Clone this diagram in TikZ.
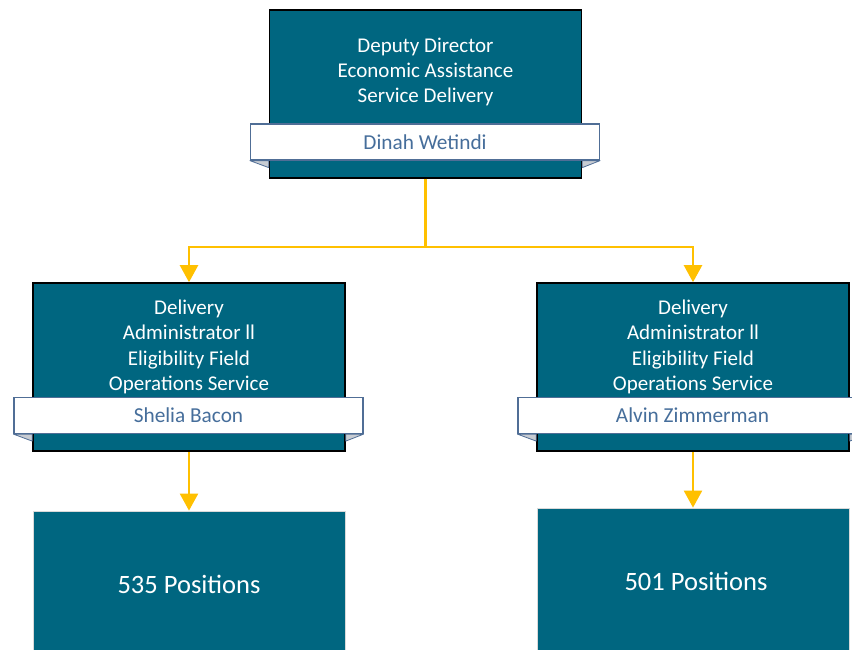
\documentclass[tikz,border=0pt]{standalone}
\usepackage{fontspec}
\setmainfont{Carlito}
\usetikzlibrary{arrows.meta}
\definecolor{boxteal}{RGB}{0,102,128}
\definecolor{barline}{RGB}{80,110,150}
\definecolor{nametext}{RGB}{70,110,155}
\definecolor{gold}{RGB}{255,192,0}
\definecolor{foldgrey}{RGB}{200,204,210}
\tikzset{
  rolebox/.style={rectangle, fill=boxteal, draw=black, line width=1.6pt, minimum width=312pt, minimum height=168pt, inner sep=0pt},
  posbox/.style={rectangle, fill=boxteal, draw=black!15, line width=0.8pt, minimum width=312pt, minimum height=168pt, inner sep=0pt},
  roletext/.style={text=white, align=center, font=\fontsize{21}{25.3}\selectfont, inner sep=0pt},
  postext/.style={text=white, font=\fontsize{26.5}{30}\selectfont, inner sep=0pt},
  namebar/.style={rectangle, fill=white, draw=barline, line width=1.2pt, minimum width=349pt, minimum height=36pt, inner sep=0pt, text=nametext, font=\fontsize{21.3}{24}\selectfont},
  fold/.style={fill=foldgrey, draw=barline, line width=0.8pt, line join=round},
  conn/.style={draw=gold, line width=2.3pt, -{Triangle[width=18pt,length=17pt]}}
}
\begin{document}
\begin{tikzpicture}[x=1pt,y=-1pt]
\path[use as bounding box, clip] (0,0) rectangle (852,649);
\fill[white] (0,0) rectangle (852,649);

% top box
\node[rolebox] (top) at (425.5,94) {};
\node[roletext] (toptext) at (425.5,72) {Deputy Director\\Economic Assistance\\Service Delivery};
\node[namebar] (topname) at (425,142) {Dinah Wetindi};
\draw[fold] (topname.south west) -- (top.west |- topname.south) -- ++(0,7) -- cycle;
\draw[fold] (topname.south east) -- (top.east |- topname.south) -- ++(0,7) -- cycle;

% left middle box
\node[rolebox] (left) at (189,367) {};
\node[roletext] (lefttext) at (189,347) {Delivery\\Administrator ll\\Eligibility Field\\Operations Service};
\node[namebar] (leftname) at (188.5,415.5) {Shelia Bacon};
\draw[fold] (leftname.south west) -- (left.west |- leftname.south) -- ++(0,7) -- cycle;
\draw[fold] (leftname.south east) -- (left.east |- leftname.south) -- ++(0,7) -- cycle;

% right middle box
\node[rolebox] (right) at (693,367) {};
\node[roletext] (righttext) at (693,347) {Delivery\\Administrator ll\\Eligibility Field\\Operations Service};
\node[namebar] (rightname) at (692.5,415.5) {Alvin Zimmerman};
\draw[fold] (rightname.south west) -- (right.west |- rightname.south) -- ++(0,7) -- cycle;
\draw[fold] (rightname.south east) -- (right.east |- rightname.south) -- ++(0,7) -- cycle;

% bottom boxes
\node[posbox] (leftpos) at (189,595) {};
\node[postext] (leftpostext) at (189,584) {535 Positions};
\node[posbox] (rightpos) at (693,592) {};
\node[postext] (rightpostext) at (696,581) {501 Positions};

% connectors
\draw[conn] (top.south) -- ++(0,68) -| (left.north);
\draw[conn] (top.south) -- ++(0,68) -| (right.north);
\draw[conn] (left.south) -- (leftpos.north);
\draw[conn] (right.south) -- (rightpos.north);
\end{tikzpicture}
\end{document}
